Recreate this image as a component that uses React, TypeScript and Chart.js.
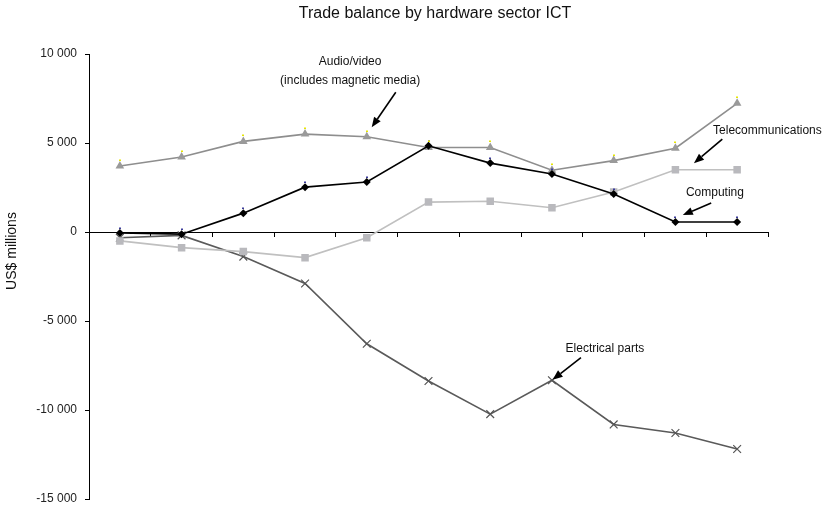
import React, { useEffect, useRef } from "react";
import { Chart, registerables } from "chart.js";

Chart.register(...registerables);

const categories = ["1", "2", "3", "4", "5", "6", "7", "8", "9", "10", "11"];
const audioVideo = [3710, 4210, 5090, 5500, 5350, 4750, 4750, 3470, 4010, 4710, 7230];
const computing = [-50, -120, 1060, 2520, 2810, 4840, 3870, 3260, 2140, 560, 560];
const telecommunications = [-500, -880, -1100, -1440, -320, 1680, 1730, 1360, 2250, 3500, 3500];
const electricalParts = [-320, -190, -1380, -2890, -6280, -8370, -10230, -8330, -10810, -11290, -12190];
const yTicks = [-15000, -10000, -5000, 0, 5000, 10000];

const TITLE = "Trade balance by hardware sector ICT";
const Y_TITLE = "US$ millions";
const FONT = "'Liberation Sans', Arial, Helvetica, sans-serif";

// annotations in data units (category index, value)
const annotations = [
  {
    lines: [
      { text: "Audio/video", x: 3.73, y: 9585 },
      { text: "(includes magnetic media)", x: 3.73, y: 8520 },
    ],
    align: "center",
    arrow: { from: [4.47, 7847], to: [4.08, 5885] },
  },
  {
    lines: [{ text: "Telecommunications", x: 9.61, y: 5717 }],
    align: "left",
    arrow: { from: [9.76, 5213], to: [9.3, 3867] },
  },
  {
    lines: [{ text: "Computing", x: 9.17, y: 2186 }],
    align: "left",
    arrow: { from: [9.58, 1625], to: [9.12, 953] },
  },
  {
    lines: [{ text: "Electrical parts", x: 7.22, y: -6558 }],
    align: "left",
    arrow: { from: [7.47, -7062], to: [7.01, -8295] },
  },
];

function fmt(v: number): string {
  const s = Math.abs(v).toString().replace(/\B(?=(\d{3})+(?!\d))/g, " ");
  return (v < 0 ? "-" : "") + s;
}

const textPlugin = {
  id: "textPlugin",
  afterDatasetsDraw(chart: any) {
    const { ctx, scales, chartArea } = chart;
    const xs = scales.x;
    const ys = scales.y;
    ctx.save();
    // accent dots on markers
    chart.data.datasets.forEach((ds: any, i: number) => {
      if (!ds.accent) return;
      const meta = chart.getDatasetMeta(i);
      meta.data.forEach((pt: any) => {
        ctx.fillStyle = ds.accent;
        ctx.fillRect(Math.round(pt.x) - 1, Math.round(pt.y - ds.pointRadius) - 1.5, 2, 1.5);
      });
    });
    // title
    ctx.fillStyle = "#111";
    ctx.font = `16px ${FONT}`;
    ctx.textAlign = "center";
    ctx.textBaseline = "middle";
    ctx.fillText(TITLE, 435, 14);
    // y title
    ctx.save();
    ctx.translate(chartArea.left - 77, 251);
    ctx.rotate(-Math.PI / 2);
    ctx.font = `14px ${FONT}`;
    ctx.fillText(Y_TITLE, 0, 0);
    ctx.restore();
    // annotations
    ctx.font = `12px ${FONT}`;
    annotations.forEach((a) => {
      ctx.textAlign = a.align as CanvasTextAlign;
      a.lines.forEach((l) => {
        ctx.fillText(l.text, xs.getPixelForValue(l.x), ys.getPixelForValue(l.y));
      });
      const x1 = xs.getPixelForValue(a.arrow.from[0]);
      const y1 = ys.getPixelForValue(a.arrow.from[1]);
      const x2 = xs.getPixelForValue(a.arrow.to[0]);
      const y2 = ys.getPixelForValue(a.arrow.to[1]);
      const ang = Math.atan2(y2 - y1, x2 - x1);
      const hl = 10;
      const hw = 4;
      const bx = x2 - Math.cos(ang) * hl;
      const by = y2 - Math.sin(ang) * hl;
      ctx.strokeStyle = "#000";
      ctx.lineWidth = 1.6;
      ctx.beginPath();
      ctx.moveTo(x1, y1);
      ctx.lineTo(bx, by);
      ctx.stroke();
      ctx.fillStyle = "#000";
      ctx.beginPath();
      ctx.moveTo(x2, y2);
      ctx.lineTo(bx + Math.sin(ang) * hw, by - Math.cos(ang) * hw);
      ctx.lineTo(bx - Math.sin(ang) * hw, by + Math.cos(ang) * hw);
      ctx.closePath();
      ctx.fill();
      ctx.fillStyle = "#111";
    });
    ctx.restore();
  },
};

export default function App() {
  const ref = useRef<HTMLCanvasElement>(null);
  useEffect(() => {
    document.body.style.margin = "0";
    if (!ref.current) return;
    const chart = new Chart(ref.current, {
      type: "line",
      data: {
        labels: categories,
        datasets: [
          {
            label: "Computing",
            data: computing,
            borderColor: "#000",
            backgroundColor: "#000",
            borderWidth: 1.6,
            pointStyle: "rectRot",
            pointRadius: 4,
            pointBorderWidth: 0,
            accent: "#3a3a9a",
            order: 0,
          } as any,
          {
            label: "Audio/video",
            data: audioVideo,
            borderColor: "#8e8e8e",
            backgroundColor: "#9a9a9a",
            borderWidth: 1.6,
            pointStyle: "triangle",
            pointRadius: 5,
            pointBorderWidth: 0,
            accent: "#e6e600",
            order: 1,
          } as any,
          {
            label: "Telecommunications",
            data: telecommunications,
            borderColor: "#c0c0c0",
            backgroundColor: "#b9b9bd",
            borderWidth: 1.6,
            pointStyle: "rect",
            pointRadius: 5.3,
            pointBorderWidth: 0,
            order: 2,
          } as any,
          {
            label: "Electrical parts",
            data: electricalParts,
            borderColor: "#5a5a5a",
            backgroundColor: "#5a5a5a",
            borderWidth: 1.6,
            pointStyle: "crossRot",
            pointRadius: 5.5,
            pointBorderWidth: 1.2,
            pointBorderColor: "#555",
            order: 3,
          } as any,
        ],
      },
      options: {
        animation: false,
        responsive: false,
        devicePixelRatio: 1,
        layout: { padding: { left: 0, top: 54, right: 58, bottom: 10 } },
        plugins: {
          legend: { display: false },
          title: { display: false },
          tooltip: { enabled: false },
        },
        elements: { line: { tension: 0 } },
        scales: {
          x: {
            type: "category",
            offset: true,
            position: { y: 0 } as any,
            grid: {
              display: true,
              drawOnChartArea: false,
              drawTicks: true,
              tickLength: 4,
              offset: true,
              color: "#000",
              lineWidth: 1,
            },
            border: { display: true, color: "#000", width: 1 },
            ticks: { display: false },
            afterFit: (s: any) => {
              s.paddingLeft = 0;
              s.paddingRight = 0;
              s.paddingTop = 0;
              s.paddingBottom = 0;
            },
          },
          y: {
            min: -15000,
            max: 10000,
            afterFit: (s: any) => {
              s.width = 89;
              s.paddingTop = 0;
              s.paddingBottom = 0;
            },
            afterBuildTicks: (s: any) => {
              s.ticks = yTicks.map((v) => ({ value: v }));
            },
            grid: {
              display: true,
              drawOnChartArea: false,
              drawTicks: true,
              tickLength: 4,
              color: "#000",
              lineWidth: 1,
            },
            border: { display: true, color: "#000", width: 1 },
            ticks: {
              padding: 8,
              color: "#222",
              font: { family: FONT, size: 12 },
              callback: (v: any) => fmt(Number(v)),
            },
          },
        },
      },
      plugins: [textPlugin],
    });
    return () => chart.destroy();
  }, []);
  return <canvas ref={ref} width={826} height={509} style={{ display: "block" }} />;
}
